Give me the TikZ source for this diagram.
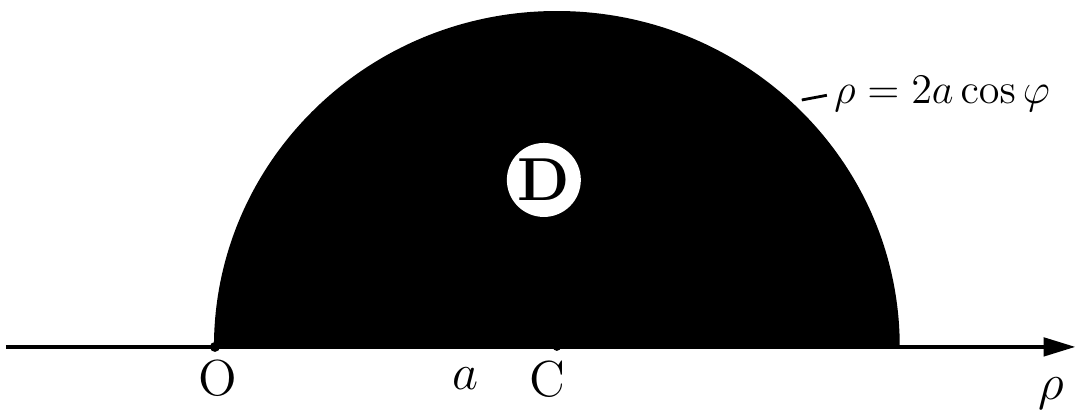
\documentclass[tikz,border=0pt]{standalone}
\usetikzlibrary{arrows.meta}
\begin{document}
\begin{tikzpicture}[
    axis/.style={line width=1.3pt, -{Triangle[length=3.2mm, width=1.8mm]}},
    lbl/.style={inner sep=0pt, font=\Large},
    dom/.style={circle, fill=white, minimum size=7.4mm, inner sep=0pt, font=\LARGE\bfseries}
]
    % --- Region D ---
    \fill[black] (9.00, 0.65) arc[start angle=0, end angle=180, x radius=3.43, y radius=3.36] -- cycle;
    \node[dom] (D) at (5.44, 2.32) {D};

    % --- Axis ---
    \coordinate (start) at (0.06, 0.65);
    \coordinate (end) at (10.76, 0.65);
    \coordinate (O) at (2.15, 0.65);
    \coordinate (C) at (5.57, 0.65);
    \draw[axis] (start) -- (end);
    \fill (O) circle (0.05);
    \fill (C) circle (0.04);

    \node[lbl] (lO) at (2.18, 0.34) {O};
    \node[lbl] (la) at (4.66, 0.33) {$a$};
    \node[lbl] (lC) at (5.48, 0.33) {C};
    \node[lbl] (lrho) at (10.52, 0.18) {$\rho$};

    % --- Boundary curve ---
    \node[lbl, font=\large, anchor=west] (eq) at (8.34, 3.18) {$\rho = 2a\cos\varphi$};
    \coordinate (tick) at (8.02, 3.12);
    \draw[line width=0.8pt, shorten >=2pt] (tick) -- (eq.west);

    % Bounding box for padding
    \useasboundingbox (0, 0) rectangle (10.78, 4.12);
\end{tikzpicture}
\end{document}
